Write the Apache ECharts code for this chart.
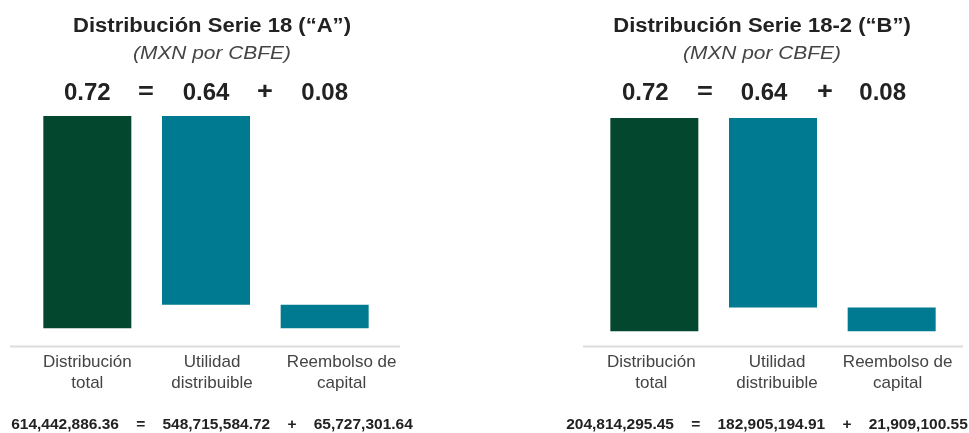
<!DOCTYPE html>
<html>
<head>
<meta charset="utf-8">
<script src="https://cdn.jsdelivr.net/npm/echarts@6/dist/echarts.min.js"></script>
<style>
html,body{margin:0;padding:0;background:#fff;}
#c{width:969px;height:433px;}
</style>
</head>
<body>
<div id="c"></div>
<script>
// ---- data ----
const categories = ['Distribución\ntotal', 'Utilidad\ndistribuible', 'Reembolso de\ncapital'];
const valuesA = [0.72, 0.64, 0.08];
const valuesB = [0.72, 0.64, 0.08];
const amountsA = ['614,442,886.36', '548,715,584.72', '65,727,301.64'];
const amountsB = ['204,814,295.45', '182,905,194.91', '21,909,100.55'];
const titleA = 'Distribución Serie 18 (“A”)';
const titleB = 'Distribución Serie 18-2 (“B”)';
const subtitle = '(MXN por CBFE)';

const DARK = '#03472E';
const TEAL = '#007A90';
const FONT = '"Liberation Sans", Arial, sans-serif';
const SX = 1.13;

function bases(v) { return [0, v[0] - v[1], 0]; }
function fmt(v) { return v.toFixed(2); }

const chart = echarts.init(document.getElementById('c'));

function txt(text, x, y, size, opts) {
  return {
    type: 'text', x: x, y: y, scaleX: SX,
    style: Object.assign({ text: text, fontFamily: FONT, fontSize: size, fill: '#222',
      textAlign: 'center', textVerticalAlign: 'middle' }, opts || {})
  };
}
const SP = '    ';

// horizontal label nudges (px) to follow the original slide layout
function catData(shifts) {
  return categories.map((c, i) => {
    const s = shifts[i];
    return { value: c, textStyle: { padding: s >= 0 ? [0, 0, 0, 2 * s] : [0, -2 * s, 0, 0] } };
  });
}
const catLabel = { margin: 6, fontFamily: FONT, fontSize: 17, lineHeight: 21, color: '#444', interval: 0, hideOverlap: false };

const option = {
  animation: false,
  backgroundColor: '#fff',
  grid: [
    { left: 28, top: 116, width: 356, height: 230 },
    { left: 595, top: 118, width: 356, height: 228 }
  ],
  xAxis: [
    { type: 'category', gridIndex: 0, data: catData([0, 6, 17]), axisLine: { show: false }, axisTick: { show: false }, axisLabel: catLabel },
    { type: 'category', gridIndex: 1, data: catData([-3, 4, 6]), axisLine: { show: false }, axisTick: { show: false }, axisLabel: catLabel },
    { type: 'category', gridIndex: 0, position: 'top', data: valuesA.map(fmt), axisLine: { show: false }, axisTick: { show: false },
      axisLabel: { margin: 11, fontFamily: FONT, fontSize: 24, fontWeight: 'bold', color: '#222', interval: 0 } },
    { type: 'category', gridIndex: 1, position: 'top', data: valuesB.map(fmt), axisLine: { show: false }, axisTick: { show: false },
      axisLabel: { margin: 13, fontFamily: FONT, fontSize: 24, fontWeight: 'bold', color: '#222', interval: 0, padding: [0, 18, 0, 0] } }
  ],
  yAxis: [
    { type: 'value', gridIndex: 0, min: -0.06, max: 0.72, show: false },
    { type: 'value', gridIndex: 1, min: -0.05, max: 0.72, show: false }
  ],
  series: [
    { type: 'bar', xAxisIndex: 0, yAxisIndex: 0, stack: 'a', barWidth: 88, silent: true,
      itemStyle: { color: 'transparent' }, data: bases(valuesA) },
    { type: 'bar', xAxisIndex: 0, yAxisIndex: 0, stack: 'a', barWidth: 88,
      data: valuesA.map((v, i) => ({ value: v, itemStyle: { color: i === 0 ? DARK : TEAL } })) },
    { type: 'bar', xAxisIndex: 1, yAxisIndex: 1, stack: 'b', barWidth: 88, silent: true,
      itemStyle: { color: 'transparent' }, data: bases(valuesB) },
    { type: 'bar', xAxisIndex: 1, yAxisIndex: 1, stack: 'b', barWidth: 88,
      data: valuesB.map((v, i) => ({ value: v, itemStyle: { color: i === 0 ? DARK : TEAL } })) }
  ],
  graphic: [
    { type: 'line', shape: { x1: 10, y1: 346.5, x2: 400, y2: 346.5 }, style: { stroke: '#dcdcdc', lineWidth: 2 } },
    { type: 'line', shape: { x1: 583, y1: 346.5, x2: 963, y2: 346.5 }, style: { stroke: '#dcdcdc', lineWidth: 2 } },
    txt(titleA, 212, 27, 19.5, { fontWeight: 'bold' }),
    txt(subtitle, 212, 54, 18.5, { fontStyle: 'italic', fill: '#444' }),
    txt(titleB, 762, 27, 19.5, { fontWeight: 'bold' }),
    txt(subtitle, 762, 54, 18.5, { fontStyle: 'italic', fill: '#444' }),
    txt('=', 146, 92, 24, { fontWeight: 'bold' }),
    txt('+', 265, 92, 24, { fontWeight: 'bold' }),
    txt('=', 705, 92, 24, { fontWeight: 'bold' }),
    txt('+', 825, 92, 24, { fontWeight: 'bold' }),
    Object.assign(txt(amountsA[0] + SP + '=' + SP + amountsA[1] + SP + '+' + SP + amountsA[2], 212, 425, 15.5, { fontWeight: 'bold' }), { scaleX: 1 }),
    Object.assign(txt(amountsB[0] + SP + '=' + SP + amountsB[1] + SP + '+' + SP + amountsB[2], 767, 425, 15.5, { fontWeight: 'bold' }), { scaleX: 1 })
  ]
};
chart.setOption(option);
</script>
</body>
</html>
